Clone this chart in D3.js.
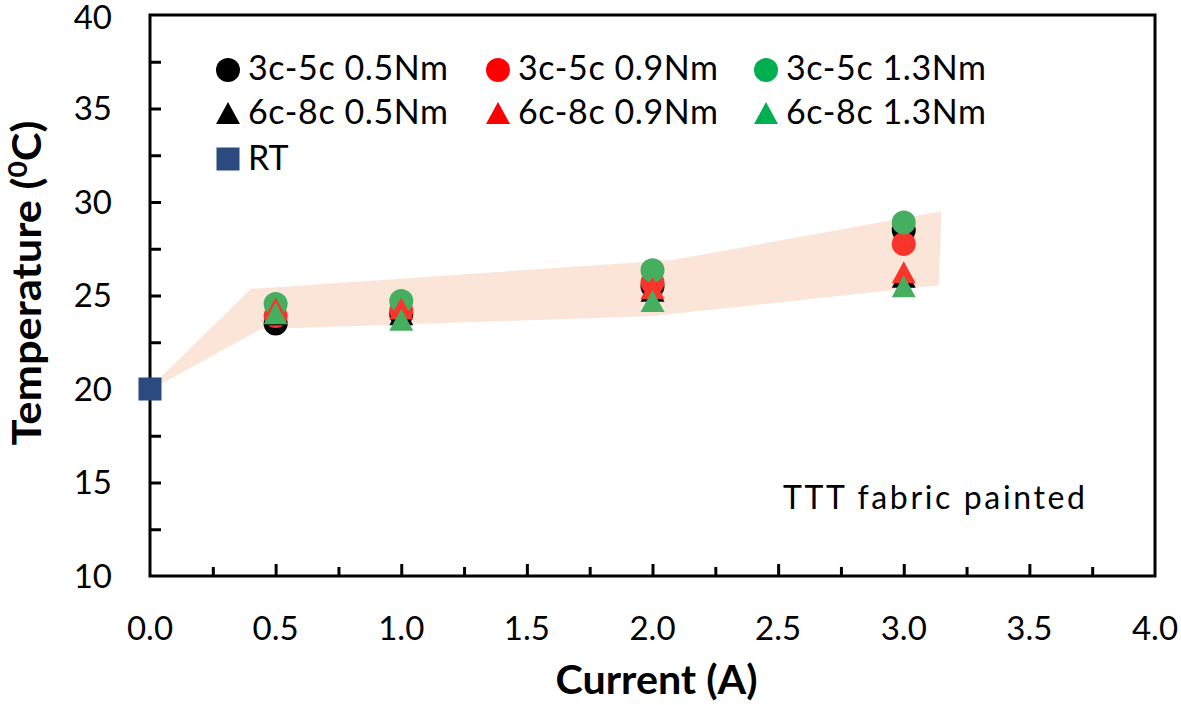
<!DOCTYPE html>
<html>
<head>
<meta charset="utf-8">
<script src="https://cdn.jsdelivr.net/npm/d3@7"></script>
<style>
  html, body { margin: 0; padding: 0; background: #fff; }
  svg { display: block; }
  text { font-family: Lato, "Open Sans", sans-serif; fill: #000; }
</style>
</head>
<body>
<svg id="chart" width="1181" height="705"></svg>
<script>
// ---------- data ----------
const currents = [0.5, 1.0, 2.0, 3.0];
const c35_05 = [23.5, 24.0, 25.5, 28.5];
const c35_09 = [23.9, 24.2, 25.7, 27.75];
const c35_13 = [24.55, 24.7, 26.35, 28.9];
const c68_05 = [24.0, 24.0, 25.25, 26.0];
const c68_09 = [24.3, 24.3, 25.4, 26.25];
const c68_13 = [24.05, 23.7, 24.7, 25.5];
const rtCurrent = [0.0];
const rtTemp = [20.0];
// shaded range band (current, temperature)
const bandUpper = [[0.0, 20.05], [0.40, 25.35], [2.08, 26.9], [3.15, 29.5]];
const bandLower = [[3.14, 25.55], [2.0, 23.9], [0.44, 23.2], [0.0, 19.95]];
const xTicks = [0, 0.5, 1.0, 1.5, 2.0, 2.5, 3.0, 3.5, 4.0];
const xMinorTicks = [0.25, 0.75, 1.25, 1.75, 2.25, 2.75, 3.25, 3.75];
const yTicks = [10, 15, 20, 25, 30, 35, 40];
const yMinorTicks = [12.5, 17.5, 22.5, 27.5, 32.5, 37.5];
const legendLabels = ["3c-5c 0.5Nm", "3c-5c 0.9Nm", "3c-5c 1.3Nm",
                      "6c-8c 0.5Nm", "6c-8c 0.9Nm", "6c-8c 1.3Nm", "RT"];

// ---------- layout ----------
const svg = d3.select("#chart");
const L = 150, R = 1155, T = 15, B = 576;
const x = d3.scaleLinear().domain([0, 4]).range([L, R]);
const y = d3.scaleLinear().domain([10, 40]).range([B, T]);

const blackC = "#000000", redC = "#F8352A", greenC = "#46AE5F";
const blueC = "#2B4A7F";

// band
svg.append("path")
  .attr("d", d3.line().x(d => x(d[0])).y(d => y(d[1]))(bandUpper.concat(bandLower)) + "Z")
  .attr("fill", "#FBE5D8")
  .attr("stroke", "none");

// axes frame
svg.append("rect")
  .attr("x", L).attr("y", T).attr("width", R - L).attr("height", B - T)
  .attr("fill", "none").attr("stroke", "#000").attr("stroke-width", 3);

// x axis ticks (inward)
const gx = svg.append("g").attr("transform", `translate(0,${B})`);
gx.call(d3.axisTop(x).tickValues(xTicks.slice(1, -1)).tickSize(12).tickFormat(""));
gx.append("g").call(d3.axisTop(x).tickValues(xMinorTicks).tickSize(9).tickFormat(""));
gx.selectAll(".domain").remove();
gx.selectAll("line").attr("stroke", "#000").attr("stroke-width", 3);

// x tick labels
svg.append("g").selectAll("text").data(xTicks).join("text")
  .attr("x", d => x(d)).attr("y", 640)
  .attr("text-anchor", "middle")
  .attr("font-size", 33)
  .text(d => d.toFixed(1));

// y axis ticks (inward)
const gy = svg.append("g").attr("transform", `translate(${L},0)`);
gy.call(d3.axisRight(y).tickValues(yTicks.slice(1, -1)).tickSize(11).tickFormat(""));
gy.append("g").call(d3.axisRight(y).tickValues(yMinorTicks).tickSize(11).tickFormat(""));
gy.selectAll(".domain").remove();
gy.selectAll("line").attr("stroke", "#000").attr("stroke-width", 3);

// y tick labels
svg.append("g").selectAll("text").data(yTicks).join("text")
  .attr("x", 112).attr("y", d => Math.max(y(d), 17))
  .attr("dy", "0.36em")
  .attr("text-anchor", "end")
  .attr("font-size", 33)
  .text(d => d);

// axis titles
svg.append("text")
  .attr("x", (L + R) / 2 + 4).attr("y", 694)
  .attr("text-anchor", "middle")
  .attr("font-size", 40).attr("font-weight", "bold")
  .attr("textLength", 202).attr("lengthAdjust", "spacingAndGlyphs")
  .text("Current (A)");

const yt = svg.append("text")
  .attr("transform", `translate(41,283) rotate(-90)`)
  .attr("text-anchor", "middle")
  .attr("font-size", 40).attr("font-weight", "bold")
  .attr("textLength", 325).attr("lengthAdjust", "spacingAndGlyphs");
yt.append("tspan").text("Temperature (");
yt.append("tspan").attr("font-size", 26).attr("dy", -14).text("0");
yt.append("tspan").attr("dy", 14).text("C)");

// annotation
svg.append("text")
  .attr("x", 783).attr("y", 509)
  .attr("font-size", 32)
  .attr("textLength", 302)
  .attr("lengthAdjust", "spacing")
  .text("TTT fabric painted");

// marker shapes
const CIRC_R = 12;
function triPath(cx, cy, w = 24, h = 22) {
  return `M${cx},${cy - h / 2}L${cx + w / 2},${cy + h / 2}L${cx - w / 2},${cy + h / 2}Z`;
}

const circleSeries = [
  { vals: c35_05, color: blackC },
  { vals: c35_09, color: redC },
  { vals: c35_13, color: greenC }
];
const triSeries = [
  { vals: c68_05, color: blackC },
  { vals: c68_09, color: redC },
  { vals: c68_13, color: greenC }
];

circleSeries.forEach(s => {
  svg.append("g").selectAll("circle").data(currents.map((c, i) => [c, s.vals[i]])).join("circle")
    .attr("cx", d => x(d[0])).attr("cy", d => y(d[1]))
    .attr("r", CIRC_R).attr("fill", s.color);
});
triSeries.forEach(s => {
  svg.append("g").selectAll("path").data(currents.map((c, i) => [c, s.vals[i]])).join("path")
    .attr("d", d => triPath(x(d[0]), y(d[1])))
    .attr("fill", s.color);
});

// RT square
svg.append("g").selectAll("rect").data(rtCurrent.map((c, i) => [c, rtTemp[i]])).join("rect")
  .attr("x", d => x(d[0]) - 11.5).attr("y", d => y(d[1]) - 11.5)
  .attr("width", 23).attr("height", 23).attr("fill", blueC);

// legend
const legColX = [228, 498, 766];
const legRowY = [70, 113, 159];
const legItems = [
  { shape: "circle", color: "#000000" }, { shape: "circle", color: "#FF0000" }, { shape: "circle", color: "#00B050" },
  { shape: "tri", color: "#000000" }, { shape: "tri", color: "#FF0000" }, { shape: "tri", color: "#00B050" },
  { shape: "square", color: blueC }
];
const leg = svg.append("g");
legItems.forEach((it, i) => {
  const cx = legColX[i % 3], cy = legRowY[Math.floor(i / 3)];
  if (it.shape === "circle") leg.append("circle").attr("cx", cx).attr("cy", cy).attr("r", 12).attr("fill", it.color);
  else if (it.shape === "tri") leg.append("path").attr("d", triPath(cx, cy, 24, 22)).attr("fill", it.color);
  else leg.append("rect").attr("x", cx - 11.5).attr("y", cy - 11.5).attr("width", 23).attr("height", 23).attr("fill", it.color);
  const t = leg.append("text")
    .attr("x", cx + 20).attr("y", cy + 10 + (i >= 3 ? 1 : 0))
    .attr("font-size", 34)
    .text(legendLabels[i]);
  if (i < 6) t.attr("textLength", 200).attr("lengthAdjust", "spacing");
});
</script>
</body>
</html>
